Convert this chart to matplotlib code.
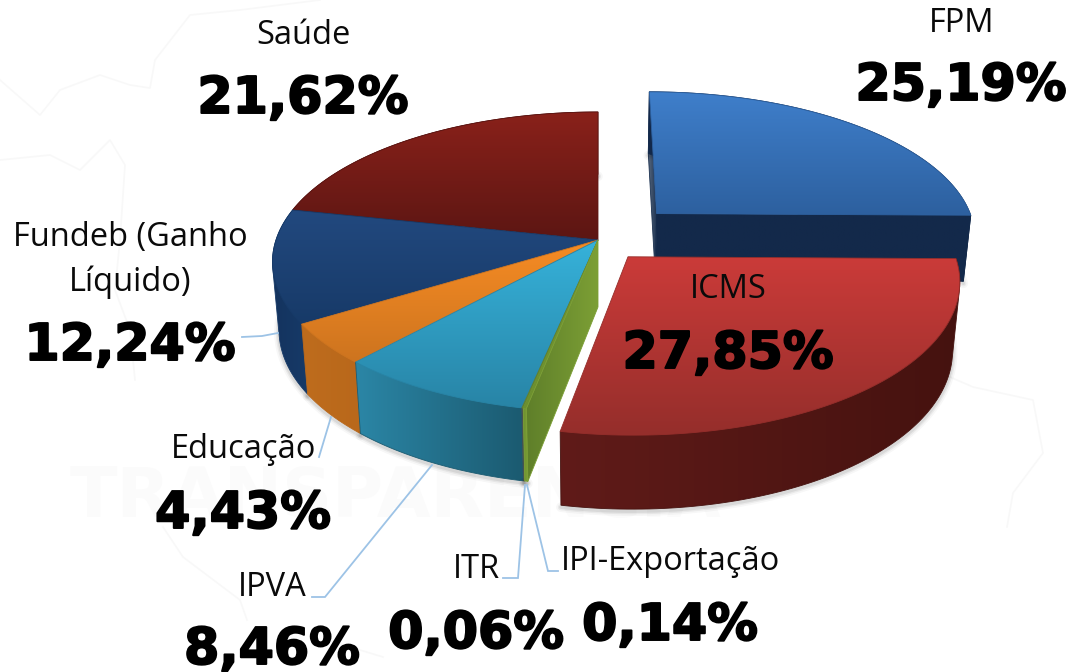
import numpy as np
import matplotlib
matplotlib.use("Agg")
import matplotlib.pyplot as plt
import matplotlib.patheffects as pe
from matplotlib.colors import LinearSegmentedColormap
from matplotlib.patches import Polygon

# ---- data (clockwise from 12 o'clock)
categories = ["FPM", "ICMS", "IPI-Exportação", "ITR", "IPVA", "Educação",
              "Fundeb (Ganho\nLíquido)", "Saúde"]
values = [25.19, 27.85, 0.14, 0.06, 8.46, 4.43, 12.24, 21.62]
value_labels = ["25,19%", "27,85%", "0,14%", "0,06%", "8,46%", "4,43%", "12,24%", "21,62%"]
explode = [0.263, 0.145, 0, 0, 0, 0, 0, 0]

top_colors = [("#3F7FCB", "#2D609F"), ("#CB3B39", "#952E2B"), ("#7A9C34", "#6C8F2E"),
              ("#5F7F30", "#5F7F30"), ("#36B2DA", "#2884A6"), ("#F78C24", "#CD741F"),
              ("#22497F", "#173A68"), ("#8A211A", "#5C1613")]
wall_colors = [("#12284A", "#152B4C"), ("#601B19", "#45120F"), ("#6B8F2F", "#7C9F35"),
               ("#44504F", "#44504F"), ("#2B86A6", "#1B5A70"), ("#BE6C1D", "#B9681B"),
               ("#14335E", "#163A68"), ("#5C1613", "#5C1613")]
label_xy = [(962, 24), (728, 290), (670, 562), (476, 570), (272, 587), (244, 449), (130, 260), (303, 36)]
value_xy = [(961, 86), (728, 354), (670, 626), (476, 634), (272, 650), (243, 514), (130, 346), (303, 99)]
leaders = [None, None,
           [(527, 485), (548, 571), (558, 571)],
           [(525, 485), (518, 578), (503, 578)],
           [(432, 465), (325, 597), (312, 597)],
           [(331, 417), (319, 457)],
           [(278, 333), (262, 336), (242, 337)],
           None]

# ---- scene parameters
CX, CY, RX, RY, K = 598.0, 240.0, 322.0, 146.8, 0.1468
LINE = "#9DC3E6"
LABEL_FONT = ["Open Sans", "DejaVu Sans"]

fig = plt.figure(figsize=(10.70, 6.72), dpi=100, facecolor="white")
ax = fig.add_axes([0, 0, 1, 1])
ax.set_xlim(0, 1070)
ax.set_ylim(672, 0)
ax.axis("off")


def project(X, Y):
    s = 1.0 / (1.0 + K * Y)
    return CX + RX * X * s, CY - RY * Y * s


def lower(x, y):
    return CX + (x - CX) * 0.98, y + 66 + (y - 213) * 0.036


def hull(pts):
    P = sorted(set(map(tuple, np.round(pts, 3))))
    def half(seq):
        out = []
        for p in seq:
            while len(out) > 1 and ((out[-1][0] - out[-2][0]) * (p[1] - out[-2][1])
                                    - (out[-1][1] - out[-2][1]) * (p[0] - out[-2][0])) <= 0:
                out.pop()
            out.append(p)
        return out[:-1]
    return np.array(half(P) + half(P[::-1]))


ax_z = [2.0]


def gradient(pts, colors, vertical=True):
    pts = np.asarray(pts)
    cmap = LinearSegmentedColormap.from_list("g", colors)
    arr = np.linspace(0, 1, 256)
    arr = arr[:, None] if vertical else arr[None, :]
    l, r, t, b = pts[:, 0].min(), pts[:, 0].max(), pts[:, 1].min(), pts[:, 1].max()
    im = ax.imshow(arr, extent=(l, r, b, t), origin="upper", aspect="auto", cmap=cmap,
                   interpolation="bilinear", zorder=ax_z[0])
    patch = Polygon(pts, closed=True, fc="none", ec=colors[-1], lw=0.6, transform=ax.transData,
                    zorder=ax_z[0] + 0.01)
    ax.add_patch(patch)
    im.set_clip_path(patch)
    ax_z[0] += 0.1


# faint watermark behind the chart
for line in [[(0, 80), (40, 115), (60, 90), (100, 75), (130, 85), (150, 88), (155, 60), (190, 15), (240, 10), (320, 0)],
             [(0, 160), (50, 155), (80, 170), (110, 140), (125, 165), (120, 240), (115, 290), (130, 330), (135, 380)],
             [(950, 377), (973, 387), (1033, 400), (1043, 453), (1013, 493), (1007, 527)],
             [(163, 527), (183, 557), (240, 600), (247, 620)],
             [(327, 640), (383, 657)]]:
    ax.plot(*zip(*line), color="#F8F8F8", lw=1.2, zorder=1)
ax.text(395, 497, "TRANSPARÊNCIA", fontsize=50, fontweight="bold", color="#FBFBFB",
        ha="center", va="center", family="DejaVu Sans", zorder=1)

# slice geometry from the values
fractions = np.array(values) / np.sum(values)
edges = np.concatenate([[0], np.cumsum(fractions)]) * 2 * np.pi
geo = []
for i in range(len(values)):
    mid = 0.5 * (edges[i] + edges[i + 1])
    ex, ey = explode[i] * np.sin(mid), explode[i] * np.cos(mid)
    th = np.linspace(edges[i], edges[i + 1], 90)
    rx, ry = project(ex + np.sin(th), ey + np.cos(th))
    ax_, ay_ = project(ex, ey)
    geo.append(dict(rx=rx, ry=ry, ax=ax_, ay=ay_))


def draw_slice(i, faces):
    g = geo[i]
    rx, ry, a0, a1 = g["rx"], g["ry"], g["ax"], g["ay"]
    bx, by = lower(rx, ry)
    ab = lower(a0, a1)
    # soft shadow under the outer wall
    for lw, al in [(7, 0.03), (4.5, 0.05), (2.5, 0.07)]:
        ax.plot(bx, by + 2, color="black", alpha=al, lw=lw, zorder=ax_z[0], solid_capstyle="round")
    ax_z[0] += 0.1
    wall = hull(np.vstack([np.c_[rx, ry], np.c_[bx, by]]))
    gradient(wall, wall_colors[i], vertical=False)
    if "end" in faces:
        gradient([(a0, a1), (rx[-1], ry[-1]), (bx[-1], by[-1]), ab], faces["end"], vertical=False)
    top = np.vstack([[(a0, a1)], np.c_[rx, ry]])
    gradient(top, top_colors[i], vertical=True)


# back to front: FPM, main body, ICMS
g = geo[0]
bx0, by0 = lower(g["rx"][0], g["ry"][0])
ab0 = lower(g["ax"], g["ay"])
gradient([(g["rx"][0], g["ry"][0]), (g["ax"], g["ay"]), ab0, (bx0, by0)], ("#5A6A80", "#1B3150"), vertical=False)
draw_slice(0, {"end": ("#13294A", "#13294A")})

for i in [7, 6, 5, 4, 3, 2]:
    draw_slice(i, {})
# cut face of the main body, coloured like the thin IPI slice
g = geo[2]
b = lower(g["rx"][0], g["ry"][0])
ab = lower(g["ax"], g["ay"])
gradient([(g["ax"], g["ay"]), (g["rx"][0], g["ry"][0]), b, ab], ("#5F7F2A", "#7C9F35"), vertical=False)

draw_slice(1, {})

# leader lines
for pts in leaders:
    if pts:
        ax.plot(*zip(*pts), color=LINE, lw=1.3, zorder=50, solid_joinstyle="miter")

# labels
for name, (x, y) in zip(categories, label_xy):
    ax.text(x, y, name, fontsize=23.5, color="#0A0A0A", ha="center", va="center",
            family=LABEL_FONT, linespacing=1.42, zorder=60)
for val, (x, y) in zip(value_labels, value_xy):
    ax.text(x, y, val, fontsize=36.5, fontweight="bold", color="black", ha="center",
            va="center", family="DejaVu Sans", zorder=60,
            path_effects=[pe.withStroke(linewidth=1.4, foreground="black")])

fig.savefig("out.png", dpi=100, facecolor="white")
